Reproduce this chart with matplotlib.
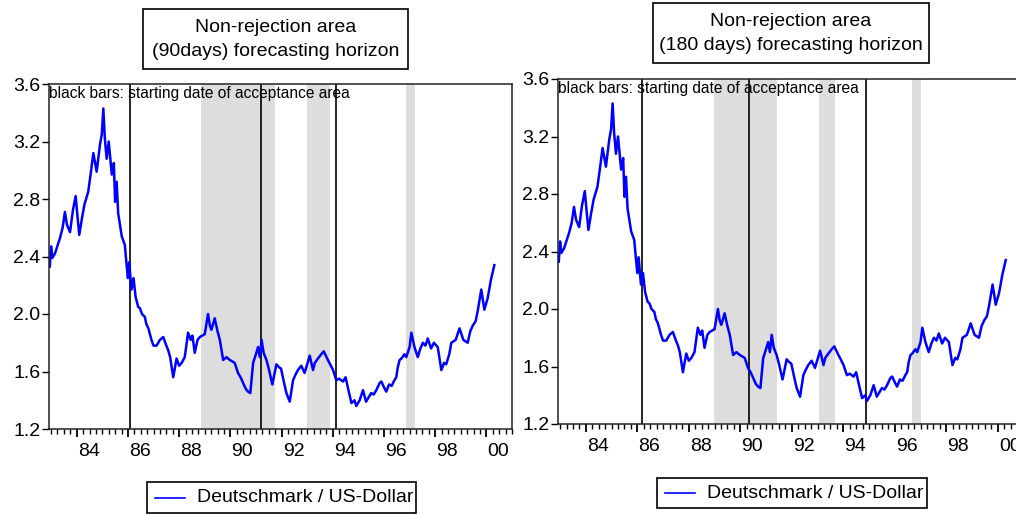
import matplotlib
matplotlib.use('Agg')
import matplotlib.pyplot as plt
from matplotlib.patches import Rectangle
from matplotlib.lines import Line2D
from matplotlib.transforms import ScaledTranslation

plt.rcParams['font.family'] = ['Liberation Sans', 'DejaVu Sans']

# ---- data ----
years = [1982.95, 1983.00, 1983.05, 1983.15, 1983.35, 1983.45, 1983.54, 1983.62, 1983.74, 1983.85,
         1983.96, 1984.03, 1984.10, 1984.20, 1984.30, 1984.45, 1984.55, 1984.65, 1984.78, 1984.91,
         1984.98, 1985.04, 1985.10, 1985.17, 1985.25, 1985.37, 1985.45, 1985.50, 1985.56, 1985.62,
         1985.69, 1985.76, 1985.88, 1985.95, 1986.00, 1986.05, 1986.14, 1986.22, 1986.30, 1986.40,
         1986.47, 1986.55, 1986.66, 1986.72, 1986.80, 1986.92, 1987.00, 1987.12, 1987.25, 1987.38,
         1987.50, 1987.57, 1987.65, 1987.77, 1987.90, 1988.00, 1988.10, 1988.22, 1988.35, 1988.45,
         1988.52, 1988.61, 1988.72, 1988.81, 1989.00, 1989.13, 1989.20, 1989.26, 1989.39, 1989.50,
         1989.59, 1989.72, 1989.85, 1989.98, 1990.17, 1990.30, 1990.40, 1990.50, 1990.60, 1990.69,
         1990.78, 1990.89, 1991.00, 1991.08, 1991.15, 1991.22, 1991.30, 1991.41, 1991.50, 1991.64,
         1991.80, 1991.90, 1991.98, 1992.10, 1992.19, 1992.32, 1992.45, 1992.55, 1992.64, 1992.77,
         1992.90, 1993.00, 1993.10, 1993.23, 1993.30, 1993.42, 1993.55, 1993.65, 1993.81, 1993.90,
         1994.01, 1994.14, 1994.25, 1994.40, 1994.50, 1994.60, 1994.73, 1994.85, 1994.92, 1995.05,
         1995.18, 1995.30, 1995.40, 1995.50, 1995.60, 1995.70, 1995.83, 1995.90, 1996.00, 1996.09,
         1996.20, 1996.30, 1996.41, 1996.48, 1996.54, 1996.61, 1996.68, 1996.80, 1996.87, 1997.00,
         1997.07, 1997.19, 1997.32, 1997.42, 1997.52, 1997.62, 1997.71, 1997.84, 1997.95, 1998.10,
         1998.24, 1998.35, 1998.43, 1998.55, 1998.63, 1998.80, 1998.95, 1999.10, 1999.27, 1999.37,
         1999.47, 1999.58, 1999.66, 1999.80, 1999.92, 2000.05, 2000.18, 2000.31]
dem_usd = [2.33, 2.47, 2.39, 2.42, 2.53, 2.60, 2.71, 2.62, 2.57, 2.72,
           2.82, 2.68, 2.55, 2.66, 2.76, 2.85, 2.98, 3.12, 2.99, 3.18,
           3.25, 3.43, 3.22, 3.08, 3.20, 2.97, 3.05, 2.78, 2.92, 2.70,
           2.62, 2.54, 2.48, 2.34, 2.25, 2.36, 2.17, 2.25, 2.12, 2.05,
           2.04, 2.00, 1.98, 1.93, 1.90, 1.82, 1.78, 1.78, 1.82, 1.84,
           1.78, 1.75, 1.70, 1.56, 1.69, 1.64, 1.66, 1.70, 1.87, 1.82,
           1.85, 1.73, 1.82, 1.84, 1.86, 2.00, 1.92, 1.89, 1.97, 1.88,
           1.82, 1.68, 1.70, 1.68, 1.66, 1.59, 1.56, 1.52, 1.48, 1.46,
           1.45, 1.66, 1.72, 1.77, 1.70, 1.82, 1.73, 1.68, 1.62, 1.51,
           1.65, 1.63, 1.62, 1.52, 1.45, 1.39, 1.54, 1.58, 1.61, 1.64,
           1.59, 1.65, 1.71, 1.61, 1.66, 1.69, 1.72, 1.74, 1.68, 1.65,
           1.61, 1.54, 1.55, 1.53, 1.56, 1.48, 1.38, 1.40, 1.36, 1.40,
           1.47, 1.39, 1.42, 1.45, 1.44, 1.47, 1.52, 1.53, 1.49, 1.46,
           1.51, 1.50, 1.54, 1.56, 1.63, 1.68, 1.69, 1.72, 1.70, 1.77,
           1.87, 1.77, 1.70, 1.76, 1.80, 1.78, 1.83, 1.76, 1.80, 1.77,
           1.61, 1.66, 1.65, 1.72, 1.80, 1.82, 1.90, 1.82, 1.80, 1.88,
           1.92, 1.95, 2.02, 2.17, 2.03, 2.11, 2.24, 2.34]

shade_90 = [(1988.85, 1991.74), (1992.99, 1993.89), (1996.85, 1997.20)]
bars_90 = [1986.08, 1991.19, 1994.11]
shade_180 = [(1988.97, 1991.44), (1993.04, 1993.66), (1996.65, 1997.00)]
bars_180 = [1986.20, 1990.35, 1994.90]

y_ticks = [1.2, 1.6, 2.0, 2.4, 2.8, 3.2, 3.6]
y_labels = ['1.2', '1.6', '2.0', '2.4', '2.8', '3.2', '3.6']
x_major = [1984, 1986, 1988, 1990, 1992, 1994, 1996, 1998, 2000]
x_labels = ['84', '86', '88', '90', '92', '94', '96', '98', '00']
x_minor = [1983 + 0.25 * i for i in range(73)]

title_lines = [("Non-rejection area", "(90days) forecasting horizon"),
               ("Non-rejection area", "(180 days) forecasting horizon")]
legend_label = "Deutschmark / US-Dollar"
note = "black bars: starting date of acceptance area"

# ---- layout (pixels) ----
W, H = 1016, 514
FS = 14
fig = plt.figure(figsize=(W / 100, H / 100), dpi=100)


def frac_rect(x0, y0, x1, y1):
    return [x0 / W, 1 - y1 / H, (x1 - x0) / W, (y1 - y0) / H]


panels = [
    dict(rect=(49.3, 84, 512, 429), shade=shade_90, bars=bars_90, title=title_lines[0],
         tbox=(143, 9, 408, 69), tl=(27, 52), lbox=(147, 482, 416, 513)),
    dict(rect=(558.3, 79, 1023.5, 424), shade=shade_180, bars=bars_180, title=title_lines[1],
         tbox=(653, 3, 929, 63), tl=(21, 46), lbox=(657, 478, 927, 508)),
]

for p in panels:
    ax = fig.add_axes(frac_rect(*p['rect']))
    for a, b in p['shade']:
        ax.axvspan(a, b, color='#dddddd', lw=0, zorder=0)
    for xb in p['bars']:
        ax.axvline(xb, color='black', lw=1.2, zorder=1)
    ax.plot(years, dem_usd, color='#0000ff', lw=1.8, zorder=2)
    ax.set_xlim(1982.93, 2000.98)
    ax.set_ylim(1.2, 3.6)
    ax.set_yticks(y_ticks, y_labels)
    ax.set_xticks(x_major, x_labels)
    ax.set_xticks(x_minor, minor=True)
    ax.tick_params(axis='y', length=5, width=1, pad=1.5, labelsize=FS)
    ax.tick_params(axis='x', which='major', length=6, width=1.3, pad=4, labelsize=FS)
    ax.tick_params(axis='x', which='minor', length=3.5, width=1)
    off = ScaledTranslation(0.12, 0, fig.dpi_scale_trans)
    for lab in ax.get_xticklabels():
        lab.set_transform(lab.get_transform() + off)
    for s in ax.spines.values():
        s.set_linewidth(1.1)
        s.set_color('#222222')
    ax.text(0.0, 0.995, note, transform=ax.transAxes, va='top', ha='left', fontsize=11.2)

    # title box
    x0, y0, x1, y1 = p['tbox']
    fig.add_artist(Rectangle((x0 / W, 1 - y1 / H), (x1 - x0) / W, (y1 - y0) / H,
                             transform=fig.transFigure, fill=False, ec='black', lw=1.2))
    cx = (x0 + x1) / 2 / W
    for line, ly in zip(p['title'], p['tl']):
        fig.text(cx, 1 - ly / H, line, ha='center', va='center', fontsize=FS)

    # legend box
    x0, y0, x1, y1 = p['lbox']
    fig.add_artist(Rectangle((x0 / W, 1 - y1 / H), (x1 - x0) / W, (y1 - y0) / H,
                             transform=fig.transFigure, fill=False, ec='black', lw=1.2))
    cy = 1 - (y0 + y1) / 2 / H
    fig.add_artist(Line2D([(x0 + 8) / W, (x0 + 38) / W], [cy, cy], transform=fig.transFigure,
                          color='#0000ff', lw=1.2))
    fig.text((x0 + 50) / W, cy, legend_label, ha='left', va='center', fontsize=FS)

fig.savefig('out.png', dpi=100)
